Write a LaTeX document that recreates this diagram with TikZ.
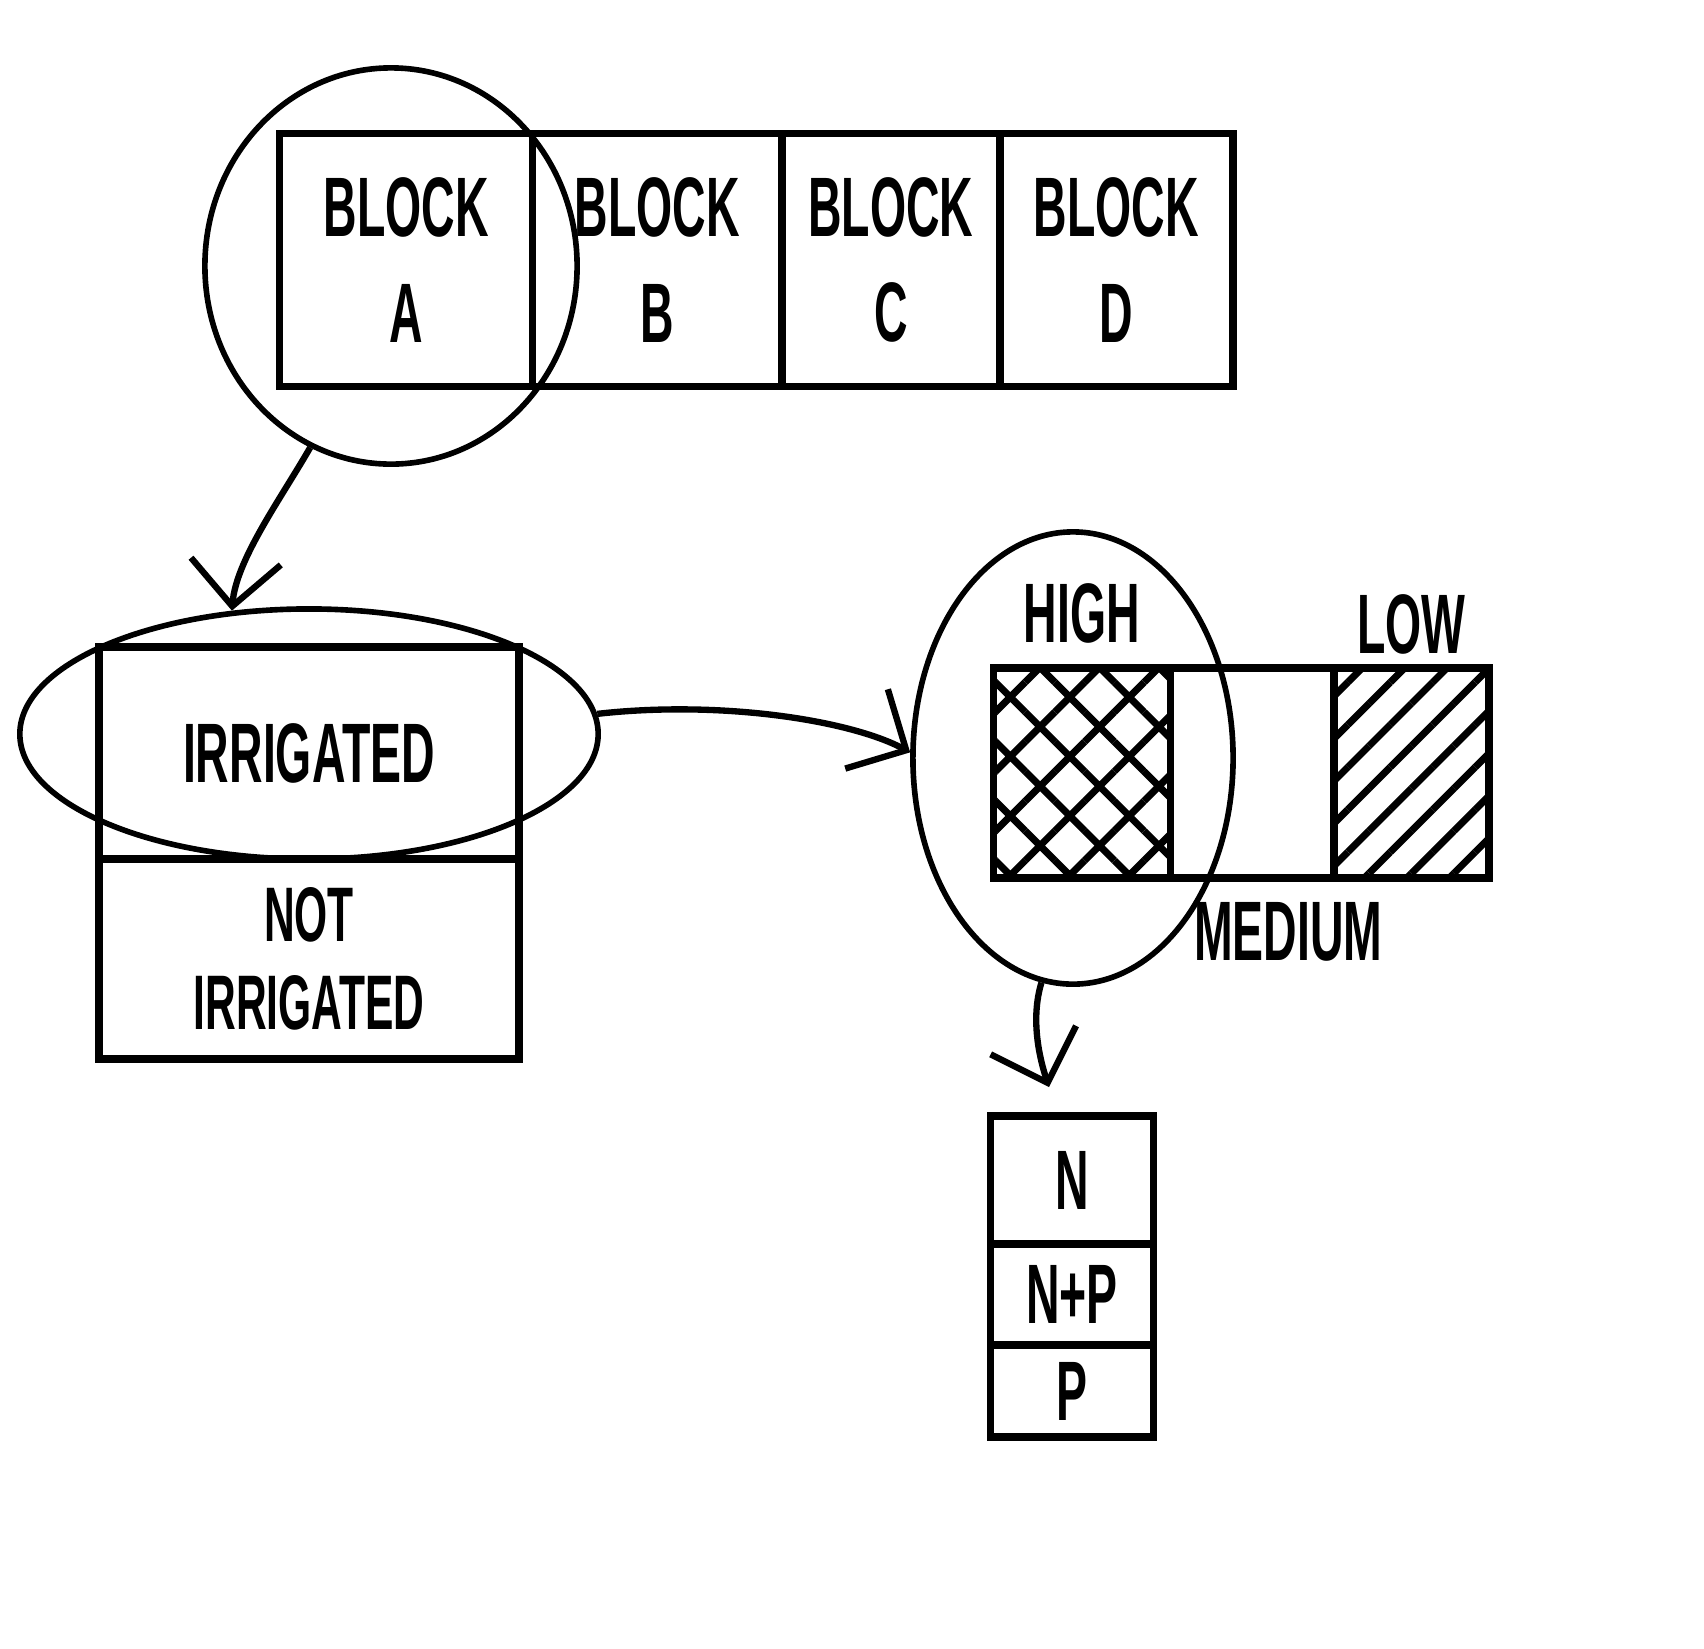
\documentclass[tikz,border=0pt]{standalone}
\usepackage{fontspec}
\newfontfamily\hand{Liberation Sans}[FakeStretch=0.55]
\usetikzlibrary{positioning,shapes.geometric,arrows.meta,patterns.meta}

\tikzset{
	blk/.style={draw, line width=2.2pt, outer sep=0pt, inner sep=0pt, align=center, font=\hand\bfseries\fontsize{24}{30}\selectfont},
	ring/.style={draw, ellipse, line width=1.6pt, inner sep=0pt},
	lbl/.style={inner sep=0pt, font=\hand\bfseries\fontsize{24}{28}\selectfont},
	pointer/.style={line width=1.8pt, -{Straight Barb[length=4.5mm,width=9mm,line width=1.8pt]}},
}

\begin{document}
\begin{tikzpicture}[x=0.01cm, y=-0.01cm]
	\useasboundingbox (0,0) rectangle (1704,1648);

	\node[blk, minimum width=2.53cm, minimum height=2.53cm] (blockA) at (406,260) {BLOCK\\A};
	\node[blk, minimum width=2.49cm, minimum height=2.53cm, right=0pt of blockA] (blockB) {BLOCK\\B};
	\node[blk, minimum width=2.18cm, minimum height=2.53cm, right=0pt of blockB] (blockC) {BLOCK\\C};
	\node[blk, minimum width=2.33cm, minimum height=2.53cm, right=0pt of blockC] (blockD) {BLOCK\\D};
	\node[ring, minimum width=3.72cm, minimum height=3.96cm] (ringA) at (391,266) {};

	\node[blk, minimum width=4.2cm, minimum height=2.12cm] (irr) at (309,753) {IRRIGATED};
	\node[blk, minimum width=4.2cm, minimum height=2.0cm, below=0pt of irr, font=\hand\bfseries\fontsize{22}{25}\selectfont] (notirr) {NOT\\IRRIGATED};
	\node[ring, minimum width=5.78cm, minimum height=2.5cm] (ringIrr) at (309,734) {};

	\node[blk, minimum width=1.77cm, minimum height=2.1cm, pattern={Hatch[angle=45,distance=4.2mm,line width=2pt]}] (high) at (1082,773) {};
	\node[blk, minimum width=1.63cm, minimum height=2.1cm, right=0pt of high] (medium) {};
	\node[blk, minimum width=1.55cm, minimum height=2.1cm, right=0pt of medium, pattern={Lines[angle=45,distance=3mm,line width=2pt]}] (low) {};
	\node[lbl, above=2.4mm of high] (highlbl) {HIGH};
	\node[lbl, above=1.3mm of low] (lowlbl) {LOW};
	\node[lbl, below=2.4mm of medium, xshift=3.6mm] (mediumlbl) {MEDIUM};
	\node[ring, minimum width=3.2cm, minimum height=4.52cm] (ringHigh) at (1073,758) {};

	\node[blk, minimum width=1.63cm, minimum height=1.28cm] (nN) at (1072,1180) {N};
	\node[blk, minimum width=1.63cm, minimum height=1.01cm, below=0pt of nN] (nNP) {N+P};
	\node[blk, minimum width=1.63cm, minimum height=0.92cm, below=0pt of nNP] (nP) {P};
	\coordinate (tipN) at (1049,1087);

	\draw[pointer] (ringA.246) .. controls (280,500) and (236,560) .. (ringIrr.122);
	\draw[pointer] (ringIrr.4) .. controls (720,700) and (850,720) .. (ringHigh.178);
	\draw[pointer] (ringHigh.262) .. controls (1030,1020) and (1040,1060) .. (tipN);

\end{tikzpicture}
\end{document}
